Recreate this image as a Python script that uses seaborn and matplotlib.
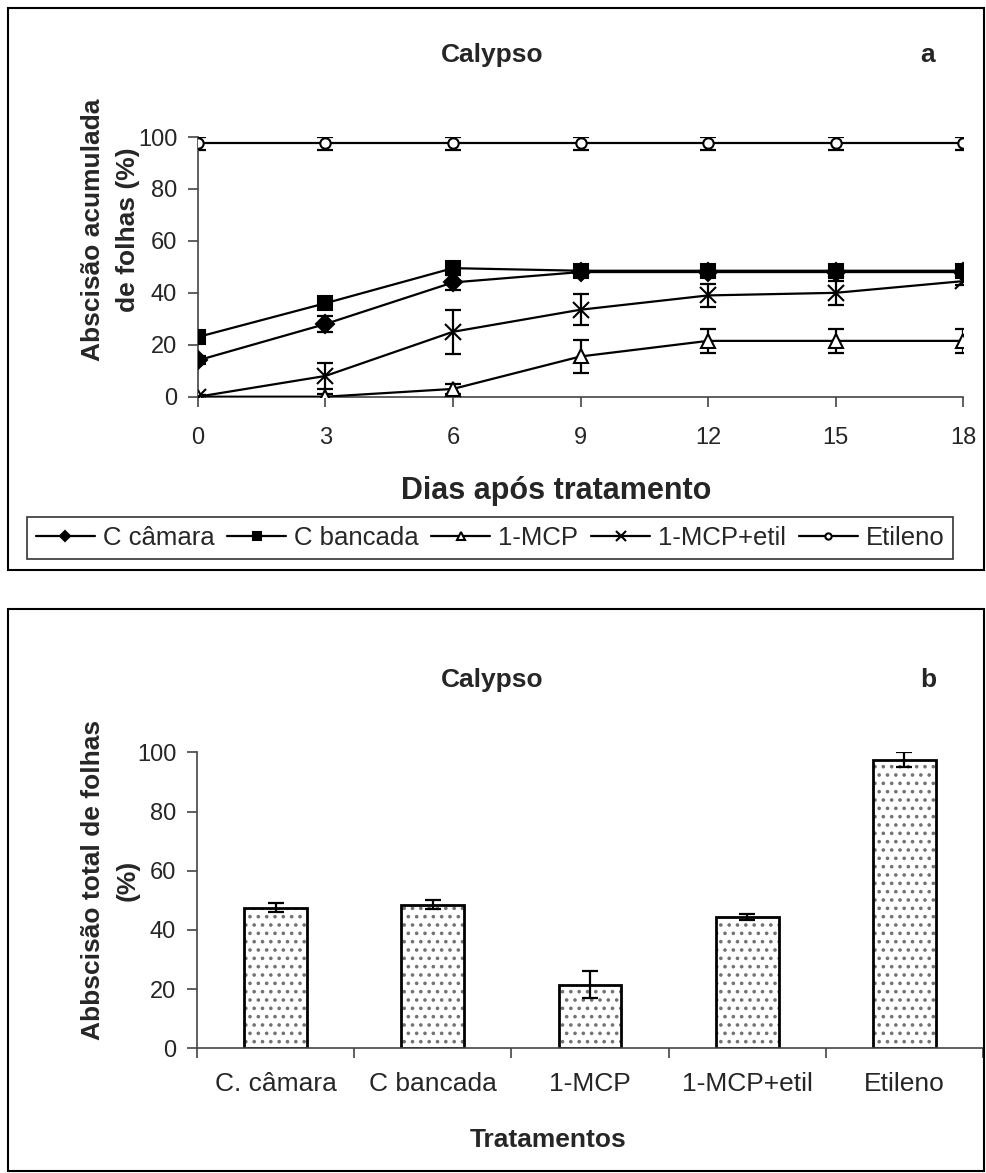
import pandas as pd
import seaborn as sns
import matplotlib.pyplot as plt
from matplotlib.patches import Rectangle

# top panel: accumulated leaf abscission over days
dias = [0, 3, 6, 9, 12, 15, 18]
c_camara = [14, 28, 44, 48, 48, 48, 48]
c_camara_err = [1.5, 3, 3, 1.5, 1.5, 1.5, 1.5]
c_bancada = [23, 36, 49.5, 48.5, 48.5, 48.5, 48.5]
c_bancada_err = [1.5, 1.5, 1.5, 1, 1, 1, 1]
mcp = [0, 0, 3, 15.5, 21.5, 21.5, 21.5]
mcp_err = [0.5, 1, 2, 6.5, 4.5, 4.5, 4.5]
mcp_etil = [0, 8, 25, 33.5, 39, 40, 44.5]
mcp_etil_err = [0.5, 5, 8.5, 6, 4.5, 4.5, 1.5]
etileno = [97.5, 97.5, 97.5, 97.5, 97.5, 97.5, 97.5]
etileno_err = [2.5, 2.5, 2.5, 2.5, 2.5, 2.5, 2.5]

# bottom panel: total leaf abscission
tratamentos = ['C. câmara', 'C bancada', '1-MCP', '1-MCP+etil', 'Etileno']
total = [47.5, 48.5, 21.5, 44.5, 97.5]
total_err = [1.5, 1.5, 4.5, 1, 2.5]

sns.set_style('white')
plt.rcParams['font.family'] = ['Liberation Sans', 'DejaVu Sans']
plt.rcParams['hatch.linewidth'] = 1.4

fig = plt.figure(figsize=(9.86, 11.73), dpi=100)

# outer frames
for y0 in (0.514, 0.0017):
    fig.patches.append(Rectangle((0.0081, y0), 0.99, 0.479, transform=fig.transFigure,
                                 fill=False, edgecolor='black', linewidth=1.5))

# ---- top panel ----
ax1 = fig.add_axes([0.2008, 0.6618, 0.7759, 0.2214])
series = [
    ('C câmara', c_camara, c_camara_err, 'D', 'black', 9),
    ('C bancada', c_bancada, c_bancada_err, 's', 'black', 9.5),
    ('1-MCP', mcp, mcp_err, '^', 'white', 10),
    ('1-MCP+etil', mcp_etil, mcp_etil_err, 'x', 'black', 12),
    ('Etileno', etileno, etileno_err, 'o', 'white', 7.5),
]
for name, vals, errs, mk, fc, ms in series:
    sns.lineplot(x=dias, y=vals, ax=ax1, color='black', linewidth=1.6,
                 marker=mk, markersize=ms, markerfacecolor=fc,
                 markeredgecolor='black', markeredgewidth=1.5, label=name, zorder=3)
    ax1.errorbar(dias, vals, yerr=errs, fmt='none', ecolor='black',
                 elinewidth=1.6, capsize=6, capthick=1.6, zorder=2)
ax1.set_xlim(0, 18)
ax1.set_ylim(0, 100)
ax1.set_xticks(dias)
ax1.set_yticks([0, 20, 40, 60, 80, 100])
ax1.set_xlabel('')
ax1.set_ylabel('')
handles, labels = ax1.get_legend_handles_labels()
ax1.get_legend().remove()

# ---- bottom panel ----
ax2 = fig.add_axes([0.1998, 0.1063, 0.7972, 0.2523])
df = pd.DataFrame({'trat': tratamentos, 'total': total})
sns.barplot(data=df, x='trat', y='total', ax=ax2, color='white', edgecolor='0.45',
            hatch='..', linewidth=0, width=0.4, errorbar=None)
sns.barplot(data=df, x='trat', y='total', ax=ax2, fill=False, color='black',
            edgecolor='black', linewidth=2, width=0.4, errorbar=None)
ax2.errorbar(range(len(tratamentos)), total, yerr=total_err, fmt='none', ecolor='black',
             elinewidth=1.6, capsize=5.5, capthick=1.6, zorder=5)
ax2.set_xlim(-0.5, 4.5)
ax2.set_ylim(0, 100)
ax2.set_yticks([0, 20, 40, 60, 80, 100])
ax2.set_xticks([-0.5, 0.5, 1.5, 2.5, 3.5, 4.5])
ax2.set_xticklabels([])
ax2.set_xticks(range(len(tratamentos)), minor=True)
ax2.set_xticklabels(tratamentos, minor=True)
ax2.set_xlabel('')
ax2.set_ylabel('')

for ax in (ax1, ax2):
    sns.despine(ax=ax)
    for s in ('left', 'bottom'):
        ax.spines[s].set_color('#444444')
        ax.spines[s].set_linewidth(1.2)
    ax.tick_params(axis='both', which='major', direction='out', length=7, width=1.2,
                   color='#444444', labelsize=17, pad=8)
    ax.tick_params(left=True, bottom=True)
ax1.tick_params(axis='x', which='major', pad=15)
ax2.tick_params(axis='x', which='minor', length=0, pad=17, labelsize=19)

# texts
fig.text(0.499, 1 - 55 / 1173, 'Calypso', ha='center', va='center', fontsize=19, fontweight='bold')
fig.text(0.941, 1 - 55 / 1173, 'a', ha='center', va='center', fontsize=19, fontweight='bold')
fig.text(0.499, 1 - 680 / 1173, 'Calypso', ha='center', va='center', fontsize=19, fontweight='bold')
fig.text(0.941, 1 - 680 / 1173, 'b', ha='center', va='center', fontsize=19, fontweight='bold')
fig.text(0.112, 1 - 230 / 1173, 'Abscisão acumulada\nde folhas (%)', ha='center', va='center',
         rotation=90, multialignment='center', fontsize=19, fontweight='bold', linespacing=1.55)
fig.text(0.112, 1 - 880 / 1173, 'Abbscisão total de folhas\n(%)', ha='center', va='center',
         rotation=90, multialignment='center', fontsize=19, fontweight='bold', linespacing=1.55)
fig.text(556 / 986, 1 - 491 / 1173, 'Dias após tratamento', ha='center', va='center',
         fontsize=22, fontweight='bold')
fig.text(548 / 986, 1 - 1140 / 1173, 'Tratamentos', ha='center', va='center',
         fontsize=19, fontweight='bold')

leg = fig.legend(handles, labels, loc='center', bbox_to_anchor=(0.497, 1 - 538 / 1173),
                 ncol=5, frameon=True, fancybox=False, edgecolor='black',
                 prop={'size': 18.5},
                 markerscale=0.6, handlelength=2.3, handletextpad=0.3, columnspacing=0.5,
                 borderpad=0.35, borderaxespad=0)
leg.get_frame().set_linewidth(1.2)

fig.savefig('out.png', dpi=100)
